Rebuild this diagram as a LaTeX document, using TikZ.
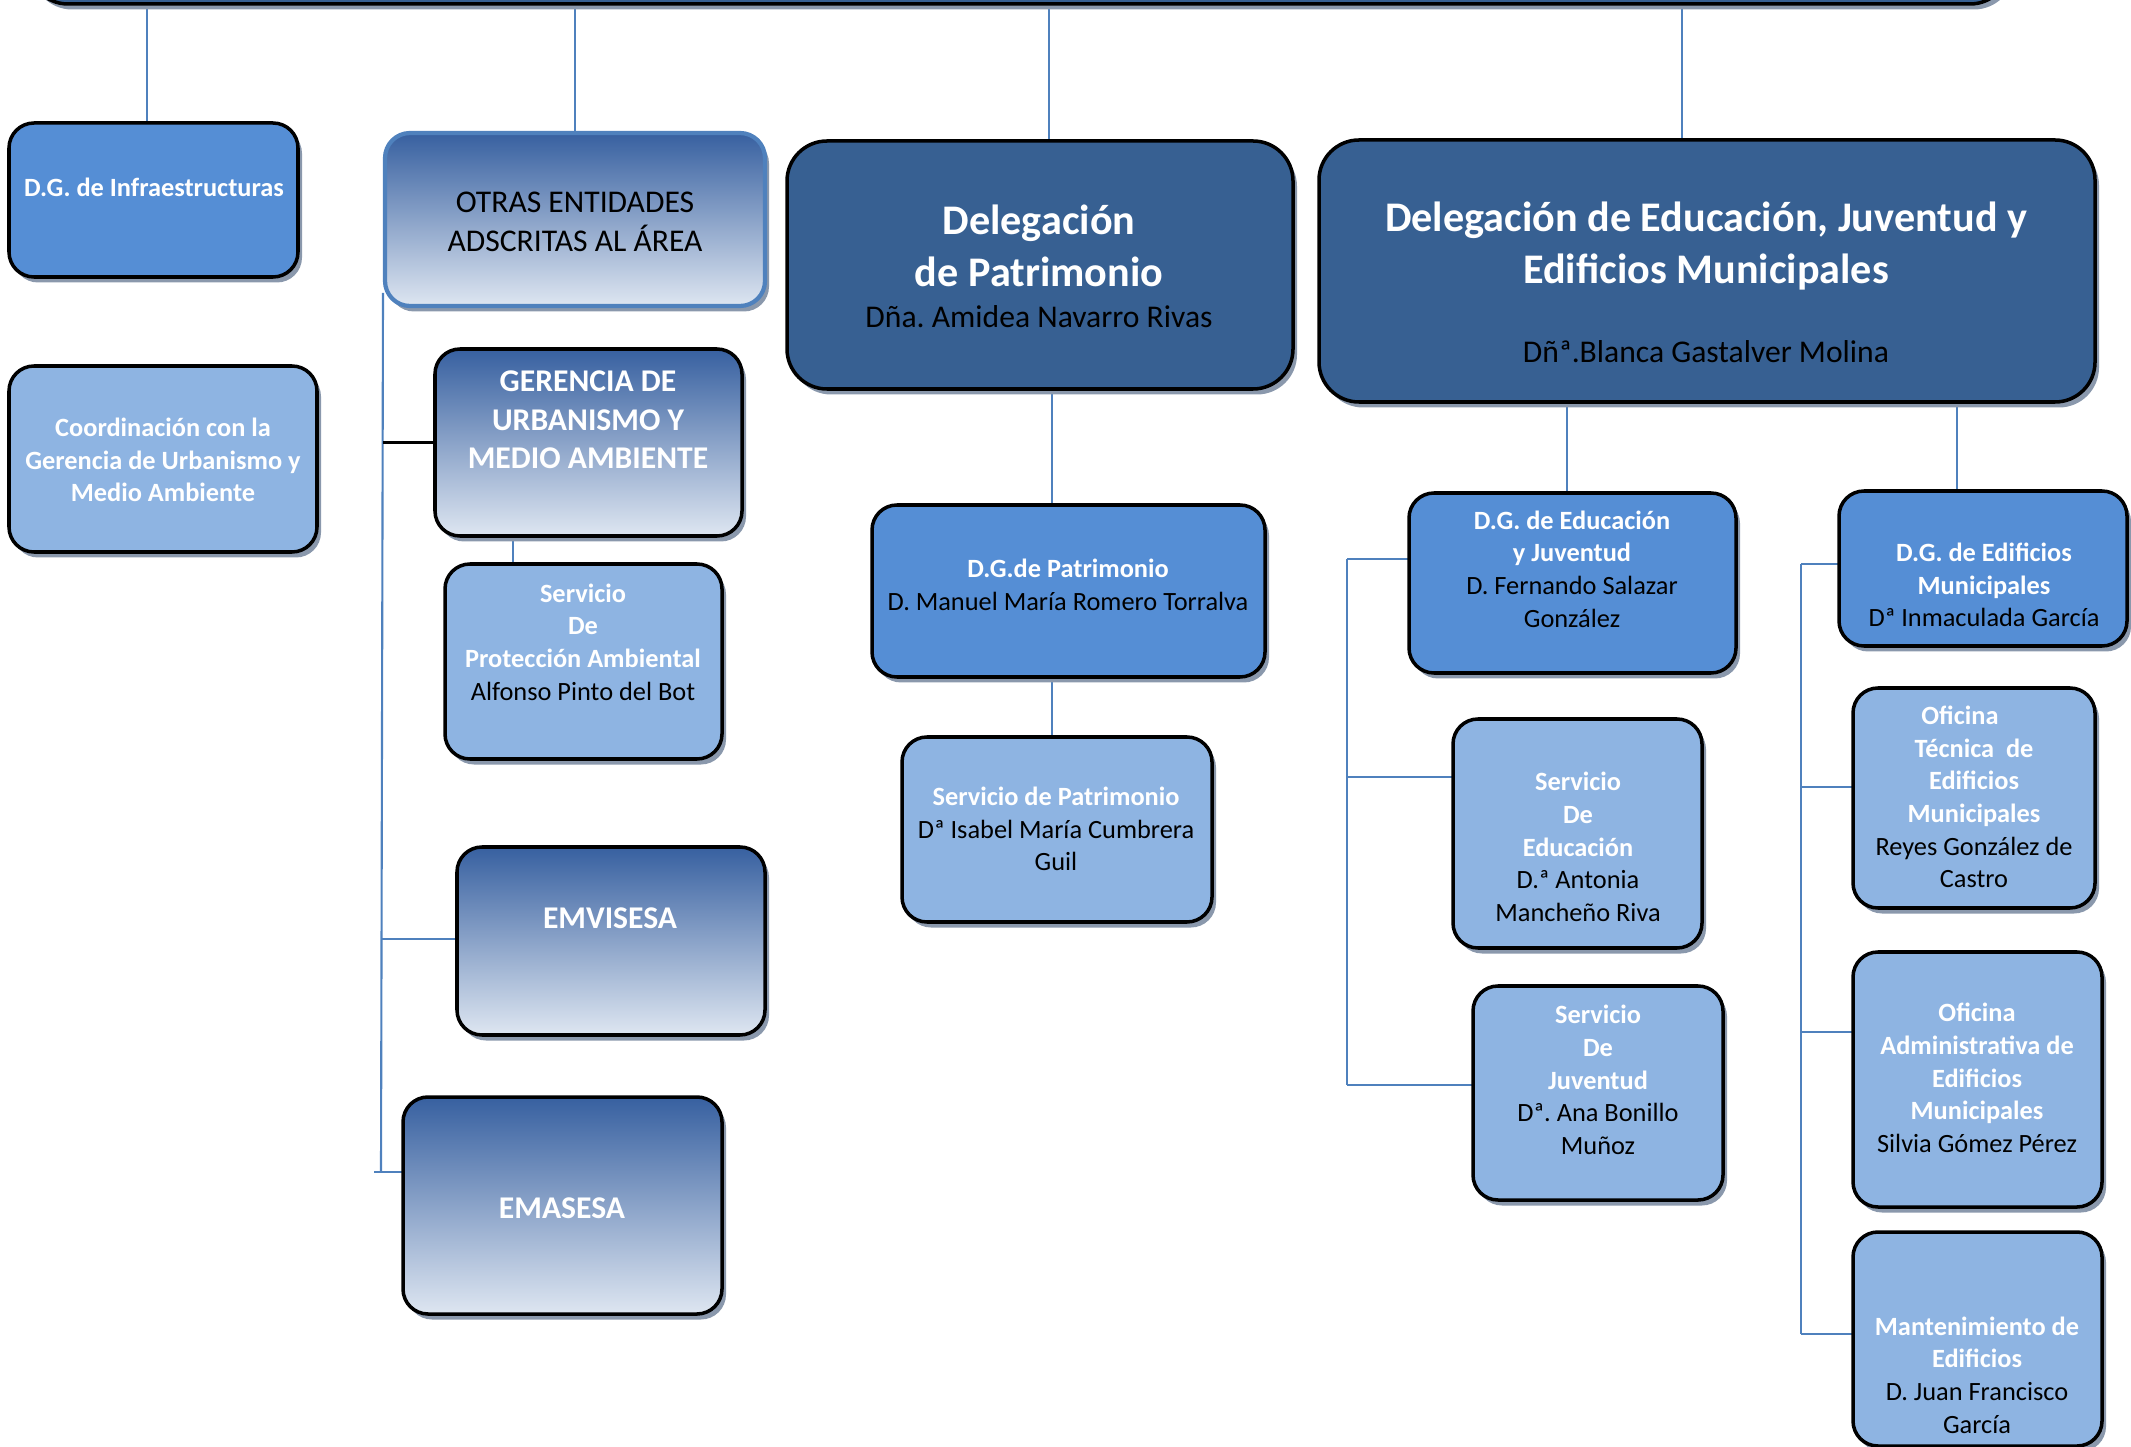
\documentclass[tikz,border=0pt]{standalone}
\usepackage{fontspec}
\setmainfont{Carlito}
\frenchspacing
\usetikzlibrary{shadows,backgrounds}
\definecolor{darkb}{RGB}{55,96,146}
\definecolor{medb}{RGB}{85,142,213}
\definecolor{lightb}{RGB}{142,180,226}
\definecolor{gtop}{RGB}{55,96,160}
\definecolor{gbot}{RGB}{222,230,241}
\definecolor{connb}{RGB}{79,129,189}
\definecolor{shad}{RGB}{138,152,172}
\newcommand\wtx[1]{\textbf{\textcolor{white}{#1}}}
\newcommand\orgbox[6]{%
  \pgfmathsetmacro\bw{(#5-#3)/100}%
  \pgfmathsetmacro\bh{(#6-#4)/100}%
  \pgfmathsetmacro\bx{(#3+#5)/200}%
  \pgfmathsetmacro\by{-(#4+#6)/200}%
  \node[#2, minimum width=\bw cm, minimum height=\bh cm] (#1) at (\bx,\by) {};}
\newcommand\otext[5][txt]{\node[#1] (#2) at ({#3/100},{-#4/100}) {#5};}
\tikzset{
  box/.style={rounded corners=0.25cm, draw=black, line width=1pt, inner sep=0pt, outer sep=0pt,
    drop shadow={shadow xshift=0.04cm, shadow yshift=-0.055cm, fill=shad, opacity=1}},
  darkbox/.style={box, fill=darkb, rounded corners=0.4cm},
  medbox/.style={box, fill=medb},
  lightbox/.style={box, fill=lightb},
  gradbox/.style={box, top color=gtop, bottom color=gbot},
  txt/.style={align=center, inner sep=0pt, font=\fontsize{7.5}{9.3}\selectfont},
  txtm/.style={align=center, inner sep=0pt, font=\fontsize{9}{10.9}\selectfont},
  txtmw/.style={txtm, text=white, font=\fontsize{9}{10.9}\selectfont\bfseries},
  txtb/.style={align=center, inner sep=0pt, font=\fontsize{12}{14.8}\selectfont},
  txtn/.style={align=center, inner sep=0pt, font=\fontsize{9}{11}\selectfont},
  conn/.style={draw=connb, line width=0.6pt},
  blk/.style={draw=black, line width=0.9pt},
}
\begin{document}
\begin{tikzpicture}
\useasboundingbox (0,0) rectangle (21.31,-14.47);
\clip (0,0) rectangle (21.31,-14.47);
% boxes
\orgbox{top}{darkbox}{28}{-120}{2010}{4}
\orgbox{infra}{medbox}{9}{123}{298}{277}
\orgbox{coord}{lightbox}{9}{366}{317}{552}
\orgbox{otras}{gradbox,draw=connb,line width=1.2pt}{385}{133}{765}{306}
\orgbox{geren}{gradbox}{435}{349}{742}{536}
\orgbox{sprot}{lightbox}{445}{564}{722}{759}
\orgbox{emvi}{gradbox}{457}{847}{765}{1035}
\orgbox{emas}{gradbox}{403}{1097}{722}{1314}
\orgbox{delpat}{darkbox}{787}{141}{1293}{389}
\orgbox{deledu}{darkbox}{1319}{140}{2095}{402}
\orgbox{dgpat}{medbox}{872}{505}{1265}{677}
\orgbox{spat}{lightbox}{902}{737}{1212}{922}
\orgbox{dgedu}{medbox}{1409}{493}{1736}{673}
\orgbox{dgedi}{medbox}{1839}{491}{2127}{646}
\orgbox{sedu}{lightbox}{1453}{719}{1702}{948}
\orgbox{sjuv}{lightbox}{1473}{986}{1723}{1200}
\orgbox{ofte}{lightbox}{1853}{688}{2095}{908}
\orgbox{ofad}{lightbox}{1853}{952}{2102}{1207}
\orgbox{mant}{lightbox}{1853}{1232}{2102}{1446}
% texts
\otext{infra-t}{154}{187}{\wtx{D.G. de Infraestructuras}}
\otext{coord-t}{163}{460}{\wtx{Coordinación con la}\\\wtx{Gerencia de Urbanismo y}\\\wtx{Medio Ambiente}}
\otext[txtm]{otras-t}{575}{222}{OTRAS ENTIDADES\\ADSCRITAS AL ÁREA}
\otext[txtmw]{geren-t}{588}{420}{GERENCIA DE\\URBANISMO Y\\MEDIO AMBIENTE}
\otext{sprot-t}{583}{642}{\wtx{Servicio}\\\wtx{De}\\\wtx{Protección Ambiental}\\Alfonso Pinto del Bot}
\otext[txtmw]{emvi-t}{610}{918}{EMVISESA}
\otext[txtmw]{emas-t}{562}{1208}{EMASESA}
\otext[txtb]{delpat-t}{1039}{246}{\wtx{Delegación}\\\wtx{de Patrimonio}}
\otext[txtn]{delpat-n}{1039}{317}{Dña. Amidea Navarro Rivas}
\otext[txtb]{deledu-t}{1706}{246}{\wtx{Delegación de Educación, Juventud y}\\\wtx{Edificios Municipales}}
\otext[txtn]{deledu-n}{1706}{352}{Dñª.Blanca Gastalver Molina}
\otext{dgpat-t}{1068}{585}{\wtx{D.G.de Patrimonio}\\D. Manuel María Romero Torralva}
\otext{spat-t}{1056}{829}{\wtx{Servicio de Patrimonio}\\Dª Isabel María Cumbrera\\Guil}
\otext{dgedu-t}{1572}{569}{\wtx{D.G. de Educación}\\\wtx{y Juventud}\\D. Fernando Salazar\\González}
\otext{sedu-t}{1578}{847}{\wtx{Servicio}\\\wtx{De}\\\wtx{Educación}\\D.ª Antonia\\Mancheño Riva}
\otext{sjuv-t}{1598}{1080}{\wtx{Servicio}\\\wtx{De}\\\wtx{Juventud}\\Dª. Ana Bonillo\\Muñoz}
\otext{dgedi-t}{1984}{585}{\wtx{D.G. de Edificios}\\\wtx{Municipales}\\Dª Inmaculada García}
\otext{ofte-t}{1974}{797}{\wtx{Oficina}\hspace*{8pt}\\\wtx{Técnica\ \ de}\\\wtx{Edificios}\\\wtx{Municipales}\\Reyes González de\\Castro}
\otext{ofad-t}{1977}{1078}{\wtx{Oficina}\\\wtx{Administrativa de}\\\wtx{Edificios}\\\wtx{Municipales}\\Silvia Gómez Pérez}
\otext{mant-t}{1977}{1375}{\wtx{Mantenimiento de}\\\wtx{Edificios}\\D. Juan Francisco\\García}
% connector anchors
\coordinate (xa) at (1.47,0);
\coordinate (xb) at (5.75,0);
\coordinate (xc) at (10.49,0);
\coordinate (xd) at (16.82,0);
\coordinate (xe) at (5.13,0);
\coordinate (xf) at (10.52,0);
\coordinate (xg) at (15.67,0);
\coordinate (xh) at (19.57,0);
\coordinate (tr1) at (3.83,-2.93);
\coordinate (tr2) at (3.81,-9.39);
\coordinate (tr3) at (3.81,-11.72);
\coordinate (eb1) at (13.47,-5.59);
\coordinate (eb2) at (13.47,-7.77);
\coordinate (eb3) at (13.47,-10.85);
\coordinate (fb1) at (18.01,-5.64);
\coordinate (fb2) at (18.01,-7.87);
\coordinate (fb3) at (18.01,-10.32);
\coordinate (fb4) at (18.01,-13.34);
\begin{pgfonlayer}{background}
\draw[conn] (xa |- top.south) -- (xa |- infra.north);
\draw[conn] (xb |- top.south) -- (xb |- otras.north);
\draw[conn] (xc |- top.south) -- (xc |- delpat.north);
\draw[conn] (xd |- top.south) -- (xd |- deledu.north);
\draw[conn] (tr1) -- (tr3);
\draw[blk] (geren.west -| tr1) -- (geren.west);
\draw[conn] (xe |- geren.south) -- (xe |- sprot.north);
\draw[conn] (tr2) -- (tr2 -| emvi.west);
\draw[conn] ([xshift=-0.07cm]tr3) -- (tr3 -| emas.west);
\draw[conn] (xf |- delpat.south) -- (xf |- dgpat.north);
\draw[conn] (xf |- dgpat.south) -- (xf |- spat.north);
\draw[conn] (xg |- deledu.south) -- (xg |- dgedu.north);
\draw[conn] (xh |- deledu.south) -- (xh |- dgedi.north);
\draw[conn] (eb1) -- (eb3);
\draw[conn] (eb1) -- (eb1 -| dgedu.west);
\draw[conn] (eb2) -- (eb2 -| sedu.west);
\draw[conn] (eb3) -- (eb3 -| sjuv.west);
\draw[conn] (fb1) -- (fb4);
\draw[conn] (fb1) -- (fb1 -| dgedi.west);
\draw[conn] (fb2) -- (fb2 -| ofte.west);
\draw[conn] (fb3) -- (fb3 -| ofad.west);
\draw[conn] (fb4) -- (fb4 -| mant.west);
\end{pgfonlayer}
\end{tikzpicture}
\end{document}
